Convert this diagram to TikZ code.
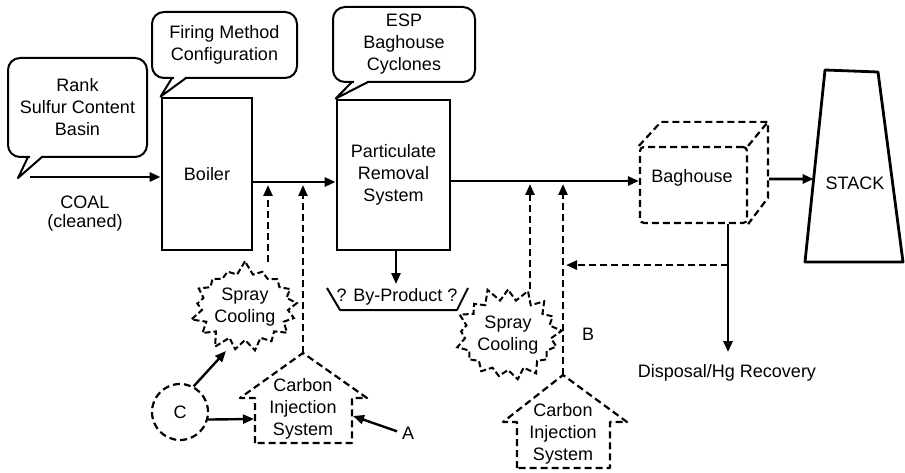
\documentclass[tikz,border=0pt]{standalone}
\usepackage{fontspec}
\setmainfont{Liberation Sans}
\usetikzlibrary{arrows.meta,shapes.symbols,calc}
\begin{document}
\begin{tikzpicture}[x=1pt,y=-1pt,
 every node/.style={font=\fontsize{18}{22}\selectfont, align=center, inner sep=0pt},
 blk/.style={draw, line width=2.8pt},
 bubble/.style={draw, line width=2pt, rounded corners=12pt},
 tail/.style={line width=2pt, line join=round},
 flow/.style={line width=2.8pt, -{Triangle[length=11pt,width=9pt]}},
 dflow/.style={line width=2.4pt, dash pattern=on 7pt off 4pt, -{Triangle[length=11pt,width=9pt]}},
 dline/.style={line width=2.2pt, dash pattern=on 7pt off 4pt},
 burst/.style={starburst, draw, line width=2pt, dash pattern=on 6pt off 3pt, starburst point height=14pt, starburst points=17},
 stk/.style={line width=2.8pt, line join=round}
]
\useasboundingbox (0,0) rectangle (905,473);

% ---------- callouts ----------
\node[bubble, minimum width=139pt, minimum height=99pt] (rank) at (77.5,107.5) {Rank\\Sulfur Content\\Basin};
\coordinate (rankA) at (28,157); \coordinate (rankB) at (42,157); \coordinate (rankT) at (18,178);
\fill[white] (29.5,154) rectangle (40.5,160);
\draw[tail] (rankA) -- (rankT) -- (rankB);

\node[bubble, minimum width=145pt, minimum height=66pt] (firing) at (224.5,45) {Firing Method\\Configuration};

\node[bubble, minimum width=142pt, minimum height=75pt] (esp) at (404,44.5) {ESP\\Baghouse\\Cyclones};

% ---------- main blocks ----------
\node[blk, minimum width=90pt, minimum height=152pt] (boiler) at (207,174) {Boiler};
\node[blk, minimum width=113pt, minimum height=150pt] (prs) at (393.5,175) {Particulate\\Removal\\System};

\coordinate (firA) at (172,78); \coordinate (firB) at (186,78);
\fill[white] (173.5,75) rectangle (184.5,81);
\draw[tail] (firA) -- (boiler.north west) -- (firB);
\coordinate (espA) at (352,82); \coordinate (espB) at (368,82);
\fill[white] (353.5,79) rectangle (366.5,85);
\draw[tail] (espA) -- (prs.north west) -- (espB);

% ---------- coal input ----------
\coordinate (coalin) at (30,177);
\draw[flow] (coalin) -- (boiler.west |- coalin);
\node (coal) at (85,202) {COAL};
\node (cleaned) at (85,223) {(cleaned)};

% ---------- flow lines ----------
\coordinate (ya) at (0,182);
\coordinate (yb) at (0,181);
\draw[flow] (boiler.east |- ya) -- (prs.west |- ya);

% baghouse (3D)
\node[draw, dline, rounded corners=4pt, minimum width=107pt, minimum height=76pt] (bag) at (693.5,185) {};
\node (baglbl) at (692,178) {Baghouse};
\draw[dline] (bag.north west) -- ++(22,-24) coordinate (bagbtl) -- ++(107,0) coordinate (bagbtr) -- ++(0,76) coordinate (bagbbr) -- (bag.south east);
\draw[dline] (bag.north east) -- (bagbtr);

\draw[flow] (prs.east |- yb) -- (bag.west |- yb);

% stack
\coordinate (stTL) at (825,70); \coordinate (stTR) at (878,72);
\coordinate (stBR) at (903,262); \coordinate (stBL) at (805,262);
\draw[stk] (stTL) -- (stTR) -- (stBR) -- (stBL) -- cycle;
\node (stack) at (855,183) {STACK};
\coordinate (bagout) at (769,179);
\coordinate (stmid) at (840,179);
\draw[flow] (bagout) -- (intersection of stTL--stBL and bagout--stmid);

% ---------- by-product ----------
\coordinate (bp1) at (327,288); \coordinate (bp2) at (340,310);
\coordinate (bp3) at (457,310); \coordinate (bp4) at (468,288);
\draw[line width=2pt, line join=round] (bp1) -- (bp2) -- (bp3) -- (bp4);
\node (byprod) at (397,297) {? By-Product ?};
\coordinate (bpin) at (396,284);
\draw[flow] (prs.south -| bpin) -- (bpin);

% ---------- left injection group ----------
\node[burst, random starburst=7, minimum width=98pt, minimum height=94pt] (spray1) at (245,307) {Spray\\Cooling};
\coordinate (s1top) at (268,262);
\coordinate (j1) at (268,185);
\draw[dflow] (s1top) -- (j1);

\coordinate (h1apex) at (303,353);
\draw[dline, line join=round] (255,443) -- (255,398) -- (240,398) -- (h1apex) -- (367,398) -- (352,398) -- (352,443) -- cycle;
\node (cis1) at (303,409) {Carbon\\Injection\\System};
\coordinate (j2) at (303,185);
\draw[dflow] (h1apex) -- (j2);

\node[draw, circle, dline, minimum size=56pt] (cc) at (180,412) {C};
\coordinate (h1w) at (254,419);
\draw[flow, line width=2.4pt] (cc.-15) -- (h1w);
\coordinate (s1bot) at (226,351);
\draw[flow, line width=2.4pt] (cc.62) -- (s1bot);

\node (alabel) at (408,433) {A};
\coordinate (h1e) at (353,416);
\draw[flow, line width=2.4pt, shorten <=5pt] (alabel.west) -- (h1e);

% ---------- right injection group ----------
\node[burst, random starburst=11, minimum width=102pt, minimum height=98pt] (spray2) at (508,335) {Spray\\Cooling};
\coordinate (s2top) at (530,289);
\coordinate (j3) at (530,184);
\draw[dflow] (s2top) -- (j3);

\coordinate (h2apex) at (563,375);
\draw[dline, line join=round] (517,468) -- (517,422) -- (503,422) -- (h2apex) -- (627,422) -- (610,422) -- (610,468) -- cycle;
\node (cis2) at (563,434) {Carbon\\Injection\\System};
\coordinate (j4) at (563,184);
\draw[dflow] (h2apex) -- (j4);

\node (blabel) at (588,334) {B};

% ---------- disposal & recycle ----------
\coordinate (dtop) at ($(bag.south)+(34.5,0)$);
\coordinate (dret) at ($(dtop)+(0,41)$);
\coordinate (dend) at ($(dtop)+(0,128)$);
\draw[flow] (dtop) -- (dend);
\node (disp) at (727,373) {Disposal/Hg Recovery};
\coordinate (r2) at (566,264);
\draw[dflow] (dret) -- (r2 |- dret);
\end{tikzpicture}
\end{document}
